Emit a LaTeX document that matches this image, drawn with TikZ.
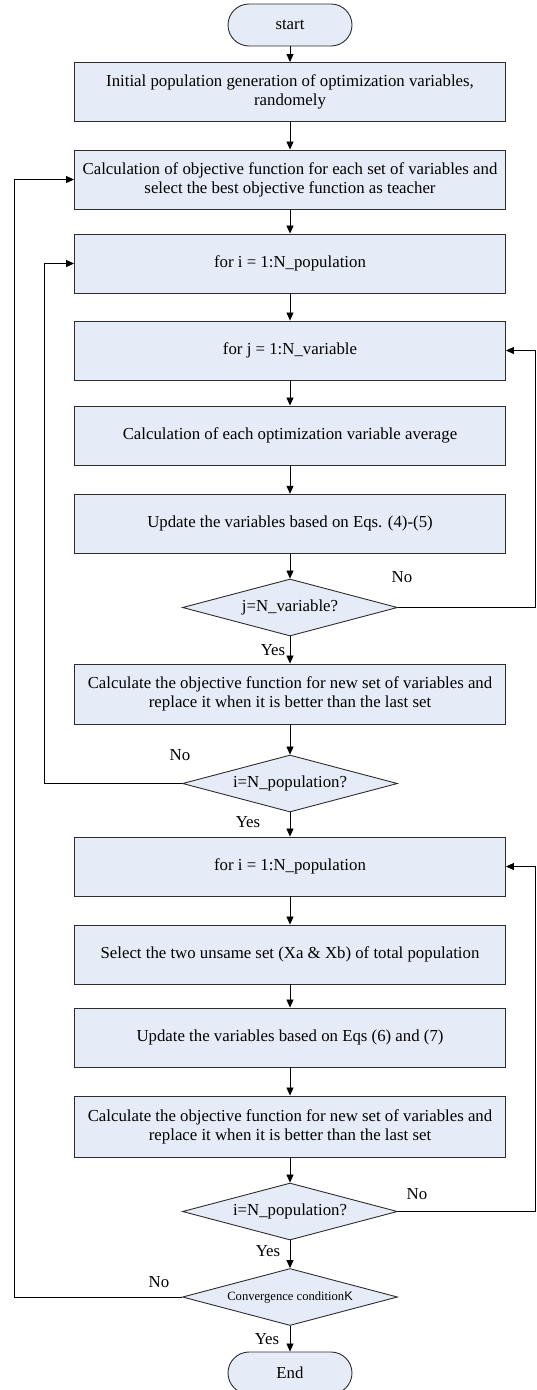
\documentclass[tikz,border=0pt]{standalone}
\usepackage{fontspec}
\setmainfont{Liberation Serif}
\newfontfamily\arialfont{Liberation Sans}
\usetikzlibrary{arrows.meta,shapes.geometric}
\definecolor{boxfill}{RGB}{230,236,247}
\definecolor{boxline}{RGB}{45,45,45}
\tikzset{
  x=1pt, y=-1pt,
  every node/.style={font=\fontsize{16.8}{19}\selectfont},
  procbox/.style={draw=boxline, fill=boxfill, line width=0.9pt, rectangle,
    minimum width=431pt, minimum height=#1, inner sep=0pt, align=center},
  procbox/.default=59pt,
  decision/.style={draw=boxline, fill=boxfill, line width=0.9pt, diamond, aspect=3.77,
    minimum width=215pt, minimum height=57pt, inner sep=0pt, align=center},
  terminal/.style={draw=boxline, fill=boxfill, line width=0.9pt, rectangle, rounded corners=21pt,
    minimum width=124pt, minimum height=42pt, inner sep=0pt},
  lbl/.style={inner sep=0pt},
  arr/.style={draw=black, line width=0.8pt, -{Triangle[length=8pt,width=7pt]}},
}
\begin{document}
\begin{tikzpicture}
\useasboundingbox (0,0) rectangle (536,1390);
\node[terminal] (start) at (290,25) {start};
\node[procbox=58.5pt] (b1) at (290,91.75) {Initial population generation of optimization variables,\\randomely};
\node[procbox] (b2) at (290,179.5) {Calculation of objective function for each set of variables and\\select the best objective function as teacher};
\node[procbox] (b3) at (290,263.5) {for i = 1:N\_population};
\node[procbox] (b4) at (290,350.5) {for j = 1:N\_variable};
\node[procbox] (b5) at (290,435.5) {Calculation of each optimization variable average};
\node[procbox] (b6) at (290,523.75) {Update the variables based on Eqs. (4)-(5)};
\node[decision] (d1) at (290,607.5) {j=N\_variable?};
\node[procbox=60pt] (b7) at (290,694) {Calculate the objective function for new set of variables and\\replace it when it is better than the last set};
\node[decision] (d2) at (290,783.5) {i=N\_population?};
\node[procbox] (b8) at (290,866.5) {for i = 1:N\_population};
\node[procbox] (b9) at (290,954.5) {Select the two unsame set (Xa \& Xb) of total population};
\node[procbox] (b10) at (290,1037.5) {Update the variables based on Eqs (6) and (7)};
\node[procbox=61pt] (b11) at (290,1126.5) {Calculate the objective function for new set of variables and\\replace it when it is better than the last set};
\node[decision] (d3) at (290,1211.5) {i=N\_population?};
\node[decision] (d4) at (290,1297) {\fontsize{12.6}{14}\selectfont Convergence condition{\arialfont K}};
\node[terminal] (end) at (290,1373) {End};

\coordinate (rx) at (535,0);
\coordinate (lx1) at (44,0);
\coordinate (lx2) at (14,0);

\draw[arr] (start) -- (b1);
\draw[arr] (b1) -- (b2);
\draw[arr] (b2) -- (b3);
\draw[arr] (b3) -- (b4);
\draw[arr] (b4) -- (b5);
\draw[arr] (b5) -- (b6);
\draw[arr] (b6) -- (d1);
\draw[arr] (d1) -- (b7);
\draw[arr] (b7) -- (d2);
\draw[arr] (d2) -- (b8);
\draw[arr] (b8) -- (b9);
\draw[arr] (b9) -- (b10);
\draw[arr] (b10) -- (b11);
\draw[arr] (b11) -- (d3);
\draw[arr] (d3) -- (d4);
\draw[arr] (d4) -- (end);

\draw[arr] (d1.east) -- (d1.east -| rx) |- (b4.east);
\draw[arr] (d2.west) -- (d2.west -| lx1) |- (b3.west);
\draw[arr] (d3.east) -- (d3.east -| rx) |- (b8.east);
\draw[arr] (d4.west) -- (d4.west -| lx2) |- (b2.west);

\node[lbl] (no1) at (402,577) {No};
\node[lbl] (yes1) at (273,650) {Yes};
\node[lbl] (no2) at (180,755) {No};
\node[lbl] (yes2) at (248,822) {Yes};
\node[lbl] (no3) at (417,1194) {No};
\node[lbl] (yes3) at (268,1251) {Yes};
\node[lbl] (no4) at (159,1282) {No};
\node[lbl] (yes4) at (267,1339) {Yes};
\end{tikzpicture}
\end{document}
